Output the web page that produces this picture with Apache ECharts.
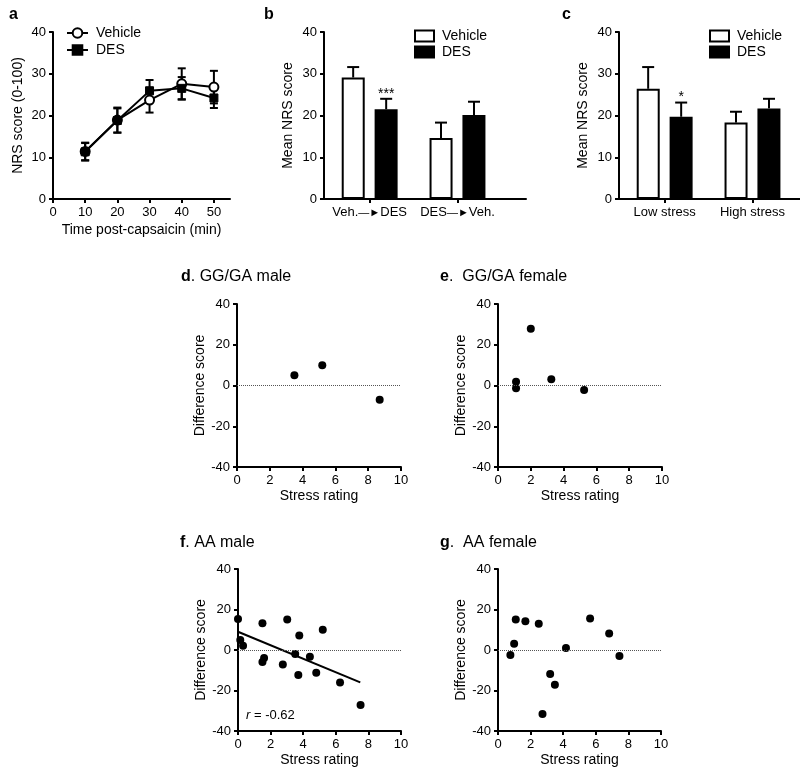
<!DOCTYPE html>
<html><head><meta charset="utf-8">
<script src="https://cdn.jsdelivr.net/npm/echarts@6/dist/echarts.min.js"></script>
<style>html,body{margin:0;padding:0;background:#fff}#c{width:800px;height:772px}</style>
</head><body><div id="c"></div>
<script>
// ---------------- data ----------------
// panel a
const timeA = [10, 20, 30, 40, 50];
const timeTicksA = [0, 10, 20, 30, 40, 50];
const vehA = [11.4, 18.9, 23.7, 27.6, 26.8];
const vehASem = [2.1, 3.0, 3.0, 3.7, 3.9];
const desA = [11.3, 18.8, 25.9, 26.5, 24.2];
const desASem = [2.1, 2.9, 2.6, 2.7, 2.4];
// panel b
const catsB = ['Veh.→DES', 'DES→Veh.'];
const vehB = [29.1, 14.6];
const vehBSem = [2.5, 3.7];
const desB = [21.5, 20.1];
const desBSem = [2.5, 3.2];
const sigDesB = ['***', ''];
// panel c
const catsC = ['Low stress', 'High stress'];
const vehC = [26.4, 18.3];
const vehCSem = [5.2, 2.6];
const desC = [19.7, 21.7];
const desCSem = [3.4, 2.3];
const sigDesC = ['*', ''];
// panels d-g
const dX = [3.5, 5.2, 8.7];
const dY = [5, 10, -7];
const eX = [1.1, 1.1, 2.0, 3.25, 5.25];
const eY = [1.8, -1.3, 27.9, 3.1, -2.2];
const fX = [0, 0.14, 0.31, 1.5, 1.5, 1.6, 2.75, 3.02, 3.51, 3.76, 3.7, 4.41, 4.8, 5.2, 6.26, 7.52];
const fY = [15.3, 4.9, 2.1, 13.2, -5.9, -4.0, -7.1, 15.1, -2.0, 7.1, -12.3, -3.3, -11.2, 10.0, -16.1, -27.2];
const fFitX = [0, 7.5];
const fFitY = [9.0, -16.0];
const fR = '-0.62';
const gX = [0.76, 0.99, 1.09, 1.68, 2.5, 2.73, 3.2, 3.49, 4.17, 5.65, 6.82, 7.45];
const gY = [-2.5, 3.1, 15.1, 14.2, 13.0, -31.6, -11.9, -17.1, 1.0, 15.5, 8.1, -3.0];

// ---------------- helpers ----------------
const FONT = '"Liberation Sans", Arial, Helvetica, sans-serif';
const BLACK = '#000';
const pairs = (xs, ys) => xs.map((x, i) => [x, ys[i]]);

function axis(extra) {
  return Object.assign({
    type: 'value',
    nameLocation: 'middle',
    axisLine: { show: true, onZero: false, lineStyle: { color: BLACK, width: 2 } },
    axisTick: { show: true, length: 4, lineStyle: { color: BLACK, width: 2 } },
    axisLabel: { color: BLACK, fontSize: 13, fontFamily: FONT, margin: 7 },
    splitLine: { show: false },
    nameTextStyle: { color: BLACK, fontSize: 14, fontFamily: FONT }
  }, extra);
}

function errSeries(gi, data, offset, capHalf, both, sig) {
  return {
    type: 'custom', xAxisIndex: gi, yAxisIndex: gi, z: 3, silent: true,
    encode: { x: 0, y: [1, 2] },
    data: data,
    renderItem: function (params, api) {
      const x = api.value(0), lo = api.value(1), hi = api.value(2);
      const pLo = api.coord([x, lo]), pHi = api.coord([x, hi]);
      const cx = pLo[0] + offset;
      const st = { stroke: BLACK, lineWidth: 2 };
      const ch = [
        { type: 'line', shape: { x1: cx, y1: pLo[1], x2: cx, y2: pHi[1] }, style: st },
        { type: 'line', shape: { x1: cx - capHalf, y1: pHi[1], x2: cx + capHalf, y2: pHi[1] }, style: st }
      ];
      if (both) ch.push({ type: 'line', shape: { x1: cx - capHalf, y1: pLo[1], x2: cx + capHalf, y2: pLo[1] }, style: st });
      if (sig && sig[params.dataIndex]) {
        ch.push({ type: 'text', style: { text: sig[params.dataIndex], x: cx, y: pHi[1] - 5, align: 'center', verticalAlign: 'middle', fontSize: 14, fontFamily: FONT, fill: BLACK } });
      }
      return { type: 'group', children: ch };
    }
  };
}

const barOpen = { color: '#fff', borderColor: BLACK, borderWidth: 2, opacity: 1 };
const barFill = { color: BLACK, borderColor: BLACK, borderWidth: 2, opacity: 1 };

function barPanel(gi, tag, cats, veh, vehSem, des, desSem, sig) {
  const vd = cats.map((c, i) => [i + 1, veh[i]]);
  const dd = cats.map((c, i) => [i + 1, des[i]]);
  return [
    { name: tag + ':Vehicle', type: 'bar', xAxisIndex: gi, yAxisIndex: gi, data: vd, barWidth: 23, barGap: '43%', itemStyle: barOpen, z: 2 },
    { name: tag + ':DES', type: 'bar', xAxisIndex: gi, yAxisIndex: gi, data: dd, barWidth: 23, barGap: '43%', itemStyle: barFill, z: 2 },
    errSeries(gi, cats.map((c, i) => [i + 1, veh[i], veh[i] + vehSem[i]]), -16.5, 6, false, null),
    errSeries(gi, cats.map((c, i) => [i + 1, des[i], des[i] + desSem[i]]), 16.5, 6, false, sig)
  ];
}

function scatterSeries(gi, xs, ys) {
  return {
    type: 'scatter', xAxisIndex: gi, yAxisIndex: gi, data: pairs(xs, ys),
    symbol: 'circle', symbolSize: 8, clip: false,
    itemStyle: { color: BLACK, opacity: 1 },
    markLine: {
      silent: true, symbol: 'none', label: { show: false },
      lineStyle: { type: 'dotted', color: '#555', width: 1 },
      data: [{ yAxis: 0 }]
    }
  };
}

const grids = [
  { left: 53, top: 32, width: 177, height: 167 },   // a
  { left: 324, top: 32, width: 202, height: 167 },  // b
  { left: 619, top: 32, width: 181, height: 167 },  // c
  { left: 237, top: 304, width: 164, height: 163 }, // d
  { left: 498, top: 304, width: 164, height: 163 }, // e
  { left: 238, top: 569, width: 163, height: 162 }, // f
  { left: 498, top: 569, width: 163, height: 162 }  // g
].map(g => Object.assign({ outerBoundsMode: 'none', containLabel: false }, g));

const yNRS = (name, gap) => axis({ min: 0, max: 40, interval: 10, name: name, nameGap: gap });
const yDiff = () => axis({ min: -40, max: 40, interval: 20, name: 'Difference score', nameGap: 26 });
const xStress = () => axis({ min: 0, max: 10, interval: 2, name: 'Stress rating', nameGap: 22 });

function catLabelAxis(cats, max, arrow) {
  const vals = cats.map((c, i) => i + 1);
  return axis({
    min: 0.48, max: max,
    axisTick: { show: true, length: 4, lineStyle: { color: BLACK, width: 2 }, customValues: vals },
    axisLabel: {
      color: BLACK, fontSize: 13, fontFamily: FONT, margin: 7, customValues: vals,
      formatter: function (v) {
        const s = cats[Math.round(v) - 1] || '';
        if (!arrow) return s;
        const parts = s.split('→');
        return '{t|' + parts[0] + '}{a|\u2014\u25BA}{t|' + parts[1] + '}';
      },
      rich: {
        t: { fontSize: 13, fontFamily: FONT, color: BLACK },
        a: { fontSize: 11, fontFamily: FONT, color: BLACK }
      }
    }
  });
}

const xAxes = [
  axis({ min: 0, max: 55, name: 'Time post-capsaicin (min)', nameGap: 24,
    axisTick: { show: true, length: 4, lineStyle: { color: BLACK, width: 2 }, customValues: timeTicksA },
    axisLabel: { color: BLACK, fontSize: 13, fontFamily: FONT, margin: 7, customValues: timeTicksA } }),
  catLabelAxis(catsB, 2.78, true),
  catLabelAxis(catsC, 2.541, false),
  xStress(), xStress(), xStress(), xStress()
].map((a, i) => Object.assign(a, { gridIndex: i }));

const yAxes = [
  yNRS('NRS score (0-100)', 28),
  yNRS('Mean NRS score', 29),
  yNRS('Mean NRS score', 29),
  yDiff(), yDiff(), yDiff(), yDiff()
].map((a, i) => Object.assign(a, { gridIndex: i }));

const titleBase = { padding: 0, textStyle: { fontSize: 16, fontFamily: FONT, color: BLACK, fontWeight: 'normal', rich: { b: { fontSize: 16, fontFamily: FONT, fontWeight: 'bold', color: BLACK } } } };
const T = (text, left, top) => Object.assign({}, titleBase, { text: text, left: left, top: top });

const legendBase = {
  orient: 'vertical', padding: 0,
  textStyle: { fontSize: 14, fontFamily: FONT, color: BLACK, padding: [0, 0, 0, 3] },
  formatter: n => n.slice(2), selectedMode: false
};

const series = [
  errSeries(0, timeA.map((t, i) => [t, vehA[i] - vehASem[i], vehA[i] + vehASem[i]]), 0, 4, true, null),
  errSeries(0, timeA.map((t, i) => [t, desA[i] - desASem[i], desA[i] + desASem[i]]), 0, 4, true, null),
  { name: 'a:Vehicle', type: 'line', xAxisIndex: 0, yAxisIndex: 0, data: pairs(timeA, vehA), z: 4,
    symbol: 'circle', symbolSize: 9, lineStyle: { color: BLACK, width: 2 },
    itemStyle: { color: '#fff', borderColor: BLACK, borderWidth: 2 } },
  { name: 'a:DES', type: 'line', xAxisIndex: 0, yAxisIndex: 0, data: pairs(timeA, desA), z: 4,
    symbol: 'rect', symbolSize: 8, lineStyle: { color: BLACK, width: 2 },
    itemStyle: { color: BLACK, borderColor: BLACK, borderWidth: 1 } }
].concat(
  barPanel(1, 'b', catsB, vehB, vehBSem, desB, desBSem, sigDesB),
  barPanel(2, 'c', catsC, vehC, vehCSem, desC, desCSem, sigDesC),
  [
    scatterSeries(3, dX, dY),
    scatterSeries(4, eX, eY),
    scatterSeries(5, fX, fY),
    scatterSeries(6, gX, gY),
    { type: 'line', xAxisIndex: 5, yAxisIndex: 5, data: pairs(fFitX, fFitY), symbol: 'none',
      lineStyle: { color: BLACK, width: 2 }, silent: true }
  ]
);

const option = {
  backgroundColor: '#fff',
  animation: false,
  textStyle: { fontFamily: FONT },
  title: [
    Object.assign(T('a', 9, 7), { textStyle: Object.assign({}, titleBase.textStyle, { fontWeight: 'bold' }) }),
    Object.assign(T('b', 264, 7), { textStyle: Object.assign({}, titleBase.textStyle, { fontWeight: 'bold' }) }),
    Object.assign(T('c', 562, 7), { textStyle: Object.assign({}, titleBase.textStyle, { fontWeight: 'bold' }) }),
    T('{b|d}. GG/GA male', 181, 269),
    T('{b|e}.  GG/GA female', 440, 269),
    T('{b|f}. AA male', 180, 535),
    T('{b|g}.  AA female', 440, 535),
    { text: '{i|r} = ' + fR, left: 246, top: 709, padding: 0,
      textStyle: { fontSize: 13, fontFamily: FONT, color: BLACK, fontWeight: 'normal',
        rich: { i: { fontStyle: 'italic', fontSize: 13, fontFamily: FONT, color: BLACK } } } }
  ],
  legend: [
    Object.assign({}, legendBase, { left: 66, top: 26, itemWidth: 21, itemHeight: 12, itemGap: 3, data: ['a:Vehicle', 'a:DES'] }),
    Object.assign({}, legendBase, { left: 414, top: 29, itemWidth: 19, itemHeight: 11, itemGap: 2, icon: 'rect', data: ['b:Vehicle', 'b:DES'] }),
    Object.assign({}, legendBase, { left: 709, top: 29, itemWidth: 19, itemHeight: 11, itemGap: 2, icon: 'rect', data: ['c:Vehicle', 'c:DES'] })
  ],
  grid: grids,
  xAxis: xAxes,
  yAxis: yAxes,
  series: series
};

const chart = echarts.init(document.getElementById('c'), null, { renderer: 'canvas' });
chart.setOption(option);
</script>
</body></html>
